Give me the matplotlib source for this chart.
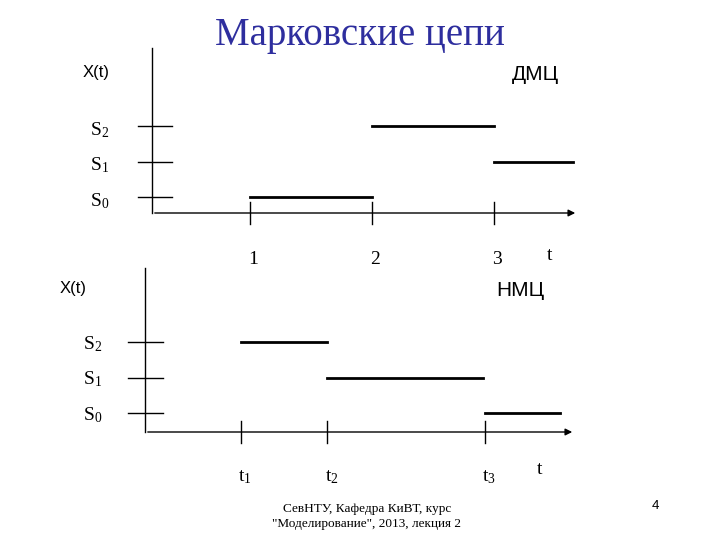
import matplotlib
matplotlib.use("Agg")
import matplotlib.pyplot as plt

plt.rcParams["mathtext.fontset"] = "custom"
plt.rcParams["mathtext.rm"] = "Liberation Serif"
plt.rcParams["mathtext.it"] = "Liberation Serif"
plt.rcParams["mathtext.default"] = "rm"

# Top chart (DMC): discrete times, state segments
top_starts = [1, 2, 3]
top_ends = [2, 3, 3.65]
top_states = [0, 2, 1]
top_ticks = [1, 2, 3]
top_tick_labels = ["1", "2", "3"]

# Bottom chart (NMC): continuous times
bot_starts = [1.0, 1.9, 3.54]
bot_ends = [1.9, 3.52, 4.32]
bot_states = [2, 1, 0]
bot_ticks = [1.0, 1.9, 3.54]
bot_tick_labels = ["t$_1$", "t$_2$", "t$_3$"]

state_labels = ["S$_0$", "S$_1$", "S$_2$"]

W, H = 720, 540
fig = plt.figure(figsize=(7.2, 5.4), dpi=100)
serif = "Liberation Serif"
sans = "Liberation Sans"

def make_axes(x0, dx, y0, dy):
    ax = fig.add_axes([0, 0, 1, 1])
    ax.set_xlim((0 - x0) / dx, (W - x0) / dx)
    ax.set_ylim((y0 - H) / dy, y0 / dy)
    ax.axis("off")
    ax.patch.set_alpha(0)
    return ax

# top: x = 128 + 122 t ; y = 197 - 35.5 s
a1 = make_axes(128, 122, 197, 35.5)
t_ax0 = (152 - 128) / 122
s_axis = (197 - 213) / 35.5
a1.plot([t_ax0, t_ax0], [s_axis, (197 - 48) / 35.5], color="black", lw=1)
a1.annotate("", xy=((578 - 128) / 122, s_axis), xytext=(t_ax0, s_axis),
            arrowprops=dict(arrowstyle="-|>", color="black", lw=1, mutation_scale=10))
for s in range(3):
    a1.plot([(138 - 128) / 122, (172 - 128) / 122], [s, s], color="black", lw=1)
for t in top_ticks:
    a1.plot([t, t], [s_axis - 0.3, s_axis + 0.3], color="black", lw=1)
for a, b, s in zip(top_starts, top_ends, top_states):
    a1.plot([a, b], [s, s], color="black", lw=2)

# bottom: x = 145 + 96 t ; y = 413 - 35.5 s
a2 = make_axes(145, 96, 413, 35.5)
s_axis2 = (413 - 432) / 35.5
a2.plot([0, 0], [s_axis2, (413 - 268) / 35.5], color="black", lw=1)
a2.annotate("", xy=((575 - 145) / 96, s_axis2), xytext=(0, s_axis2),
            arrowprops=dict(arrowstyle="-|>", color="black", lw=1, mutation_scale=10))
for s in range(3):
    a2.plot([(128 - 145) / 96, (163 - 145) / 96], [s, s], color="black", lw=1)
for t in bot_ticks:
    a2.plot([t, t], [s_axis2 - 0.3, s_axis2 + 0.3], color="black", lw=1)
for a, b, s in zip(bot_starts, bot_ends, bot_states):
    a2.plot([a, b], [s, s], color="black", lw=2)

def txt(x, y, s, size, family=serif, color="black", ha="center"):
    fig.text(x / W, 1 - y / H, s, fontsize=size, family=family, color=color,
             ha=ha, va="center")

txt(360, 36, "Марковские цепи", 28, color="#2e2e9e")
txt(96, 73, "X(t)", 12, family=sans)
txt(535, 75, "ДМЦ", 15, family=sans)
txt(73, 288, "X(t)", 12, family=sans)
txt(520, 291, "НМЦ", 15, family=sans)
for i, lab in enumerate(state_labels):
    txt(100, 197 - 35.5 * i + 4, lab, 14)
    txt(93, 413 - 35.5 * i + 2, lab, 14)
for t, lab in zip(top_ticks, top_tick_labels):
    txt(128 + 122 * t + 3, 260, lab, 14)
txt(550, 255, "t", 14)
for t, lab in zip(bot_ticks, bot_tick_labels):
    txt(145 + 96 * t + 4, 477, lab, 14)
txt(540, 470, "t", 14)
txt(367, 509, "СевНТУ, Кафедра КиВТ, курс", 9.5)
txt(367, 524, "\"Моделирование\", 2013, лекция 2", 9.5)
txt(655, 506, "4", 9.5, family=sans)

fig.savefig("out.png", dpi=100)
